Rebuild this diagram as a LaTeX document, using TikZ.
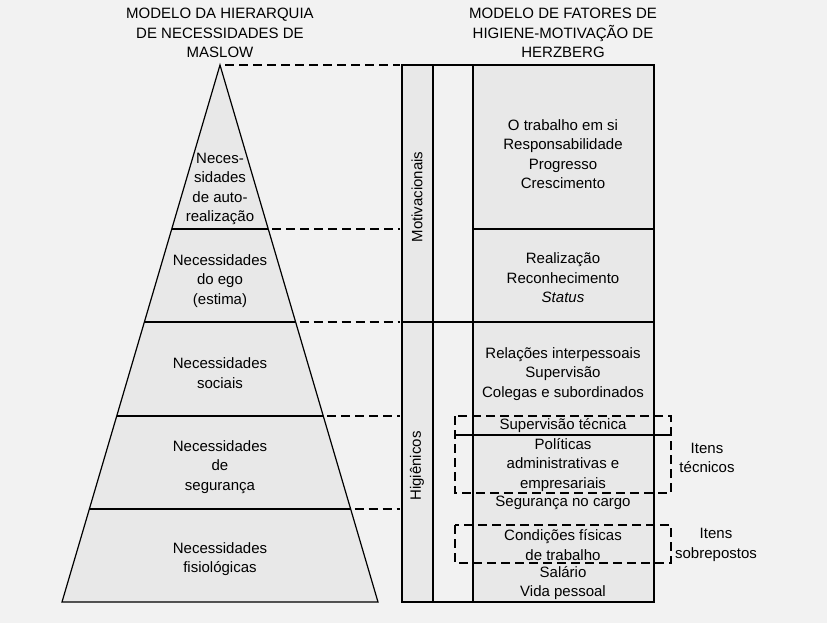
\documentclass[tikz,border=0pt]{standalone}
\usepackage{fontspec}
\setmainfont{Liberation Sans}
\usetikzlibrary{calc}

\begin{document}
\begin{tikzpicture}[x=1pt, y=-1pt,
    lbl/.style={align=center, inner sep=0pt, font=\fontsize{15}{19.5}\selectfont},
    guide/.style={dash pattern=on 9pt off 5pt, line width=1.2pt}]
    \useasboundingbox[fill=gray!10] (0,0) rectangle (827,623);

    % Maslow pyramid
    \coordinate (apex) at (220,65);
    \coordinate (bl) at (62,602);
    \coordinate (br) at (378,602);
    \coordinate (colL) at (400,65);
    \fill[gray!18] (apex) -- (br) -- (bl) -- cycle;
    \draw[line width=1.2pt] (apex) -- (br) -- (bl) -- cycle;
    \draw[guide] ($(apex)+(5,0)$) -- (colL);
    \foreach \t/\n in {0.3054/1, 0.4786/2, 0.6536/3, 0.8268/4} {
        \coordinate (l\n) at ($(apex)!\t!(bl)$);
        \coordinate (r\n) at ($(apex)!\t!(br)$);
        \draw[line width=1.2pt] (l\n) -- (r\n);
        \draw[guide] ($(r\n)+(4,0)$) -- (r\n -| colL);
    }

    % Herzberg columns
    \fill[gray!18] (402,65) rectangle (433,602);
    \fill[gray!18] (473,65) rectangle (654,602);
    \draw[line width=1.5pt] (402,65) rectangle (654,602);
    \draw[line width=1.5pt] (433,65) -- (433,602);
    \draw[line width=1.5pt] (473,65) -- (473,602);
    \draw[line width=1.2pt] (473,229) -- (654,229);
    \draw[line width=1.2pt] (402,322) -- (654,322);
    \draw[line width=1.2pt] (455,435) -- (671,435);
    \draw[guide] (455,416) rectangle (671,493);
    \draw[guide] (455,525) rectangle (671,563);

    \node[lbl] (maslow) at (220,33) {MODELO DA HIERARQUIA\\DE NECESSIDADES DE\\MASLOW};
    \node[lbl] (herzberg) at (563,33) {MODELO DE FATORES DE\\HIGIENE-MOTIVAÇÃO DE\\HERZBERG};

    \node[lbl] (autoreal) at (220,189) {Neces-\\sidades\\de auto-\\realização};
    \node[lbl] (ego) at (220,281) {Necessidades\\do ego\\(estima)};
    \node[lbl] (sociais) at (220,373) {Necessidades\\sociais};
    \node[lbl] (seguranca) at (220,467) {Necessidades\\de\\segurança};
    \node[lbl] (fisio) at (220,559) {Necessidades\\fisiológicas};

    \node[lbl, rotate=90] (motiv) at (417,197) {Motivacionais};
    \node[lbl, rotate=90] (higien) at (417,466) {Higiênicos};

    \node[lbl] (trabalho) at (563,154) {O trabalho em si\\Responsabilidade\\Progresso\\Crescimento};
    \node[lbl] (realiz) at (563,278) {Realização\\Reconhecimento\\\textit{Status}};
    \node[lbl] (relacoes) at (563,374) {Relações interpessoais\\Supervisão\\Colegas e subordinados};
    \node[lbl] (suptec) at (563,426) {Supervisão técnica};
    \node[lbl] (politicas) at (563,465) {Políticas\\administrativas e\\empresariais};
    \node[lbl] (segcargo) at (563,503) {Segurança no cargo};
    \node[lbl] (condicoes) at (563,545) {Condições físicas\\de trabalho};
    \node[lbl] (salario) at (563,583) {Salário\\Vida pessoal};

    \node[lbl] (tecnicos) at (707,458) {Itens\\técnicos};
    \node[lbl] (sobrep) at (716,545) {Itens\\sobrepostos};
\end{tikzpicture}
\end{document}
